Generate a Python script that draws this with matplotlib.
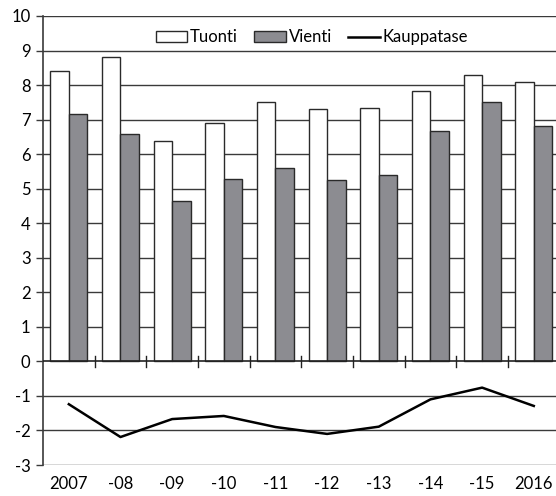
import matplotlib.pyplot as plt
import numpy as np
from matplotlib.lines import Line2D
from matplotlib.patches import Patch

vuodet = ['2007', '-08', '-09', '-10', '-11', '-12', '-13', '-14', '-15', '2016']
tuonti = [8.4, 8.8, 6.37, 6.9, 7.51, 7.32, 7.35, 7.83, 8.3, 8.1]
vienti = [7.17, 6.58, 4.65, 5.29, 5.6, 5.26, 5.4, 6.68, 7.51, 6.81]
kauppatase = [-1.24, -2.19, -1.67, -1.58, -1.9, -2.1, -1.89, -1.1, -0.76, -1.29]

plt.rcParams['font.family'] = ['Lato', 'DejaVu Sans']
plt.rcParams['axes.unicode_minus'] = False

fig = plt.figure(figsize=(5.56, 4.96), dpi=100)
ax = fig.add_axes([43/556, 1-465/496, 513/556, 449/496])

x = np.arange(len(vuodet))
w = 0.36
grid_c = '#3a3a3a'

# vaakaviivat
for yy in range(-3, 11):
    if yy != 0:
        ax.axhline(yy, color=grid_c, lw=1.0, zorder=0)

ax.bar(x - w/2, tuonti, w, color='white', edgecolor='#2a2a2a', lw=1.0, zorder=2)
ax.bar(x + w/2, vienti, w, color='#8c8c91', edgecolor='#2a2a2a', lw=1.0, zorder=2)
ax.plot(x, kauppatase, color='black', lw=1.8, zorder=3)

# nollaviiva ja väliviivat
ax.axhline(0, color='#222222', lw=1.2, zorder=3)
for xx in x[:-1] + 0.5:
    ax.plot([xx, xx], [-0.15, 0.15], color='#222222', lw=1.0, zorder=3)

ax.set_xlim(-0.5, 9.43)
ax.set_ylim(-3, 10)
ax.set_yticks(range(-3, 11))
ax.set_xticks(x)
ax.set_xticklabels(vuodet)
ax.tick_params(axis='x', length=0, pad=8, labelsize=12)
ax.tick_params(axis='y', length=5, width=1, color=grid_c, labelsize=12, pad=4)

for s in ('top', 'right', 'bottom'):
    ax.spines[s].set_visible(False)
ax.spines['left'].set_color(grid_c)
ax.spines['left'].set_linewidth(1.2)

handles = [Patch(facecolor='white', edgecolor='#2a2a2a', lw=1.0),
           Patch(facecolor='#8c8c91', edgecolor='#2a2a2a', lw=1.0),
           Line2D([0], [0], color='black', lw=1.8)]
ax.legend(handles, ['Tuonti', 'Vienti', 'Kauppatase'], ncol=3, frameon=False,
          loc='center', bbox_to_anchor=(0.524, 0.953), fontsize=12,
          handlelength=1.9, handleheight=0.6, handletextpad=0.15,
          columnspacing=1.0, borderpad=0)

fig.savefig('out.png', dpi=100)
